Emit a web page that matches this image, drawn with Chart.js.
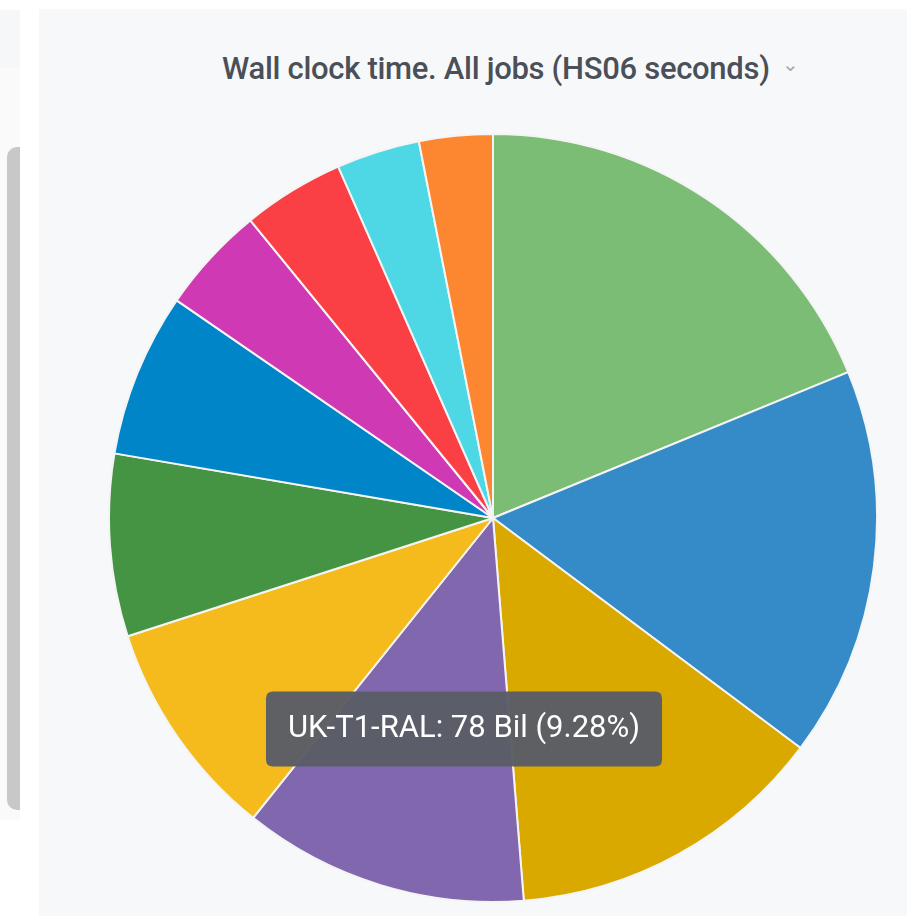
<!DOCTYPE html>
<html>
<head>
<meta charset="utf-8">
<script src="https://cdn.jsdelivr.net/npm/chart.js@4/dist/chart.umd.min.js"></script>
<style>
  html, body { margin: 0; padding: 0; background: #fff; width: 907px; height: 916px; overflow: hidden; }
  .side-top { position: absolute; left: 0; top: 10px; width: 20px; height: 58px; background: #f6f7f9; }
  .side { position: absolute; left: 0; top: 68px; width: 20px; height: 752px; background: #fafafa; }
  .bar { position: absolute; left: 7px; top: 147px; width: 13px; height: 663px; background: #c8c8c8; border-radius: 10px 0 0 10px; }
  .panel { position: absolute; left: 39px; top: 9px; width: 868px; height: 907px; background: #f7f8fa; }
  .title { position: absolute; left: 222px; top: 50px; font-family: Roboto, sans-serif; font-weight: 500; font-size: 31px; color: #4a4f58; white-space: nowrap; letter-spacing: -0.3px; }
  .title span { color: #a4a8ae; font-size: 20px; font-weight: 400; margin-left: 12px; position: relative; top: -8px; }
  #wrap { position: absolute; left: 108px; top: 133px; width: 770px; height: 770px; }
</style>
</head>
<body>
<div class="side-top"></div>
<div class="side"></div>
<div class="bar"></div>
<div class="panel"></div>
<div class="title">Wall clock time. All jobs (HS06 seconds)<span>&#8964;</span></div>
<div id="wrap"><canvas id="pie"></canvas></div>

<script>
// sites, clockwise from 12 o'clock
const sitios = ["CH-CERN", "DE-KIT", "FR-CCIN2P3", "IT-INFN-CNAF", "UK-T1-RAL", "US-T1-BNL",
                "NL-T1", "ES-PIC", "CA-TRIUMF", "NDGF", "RU-JINR-T1"];
// wall clock time, billions of HS06 seconds
const horas = [158, 138, 113.5, 101, 78, 64.5, 58, 38, 36, 29.5, 26];
const colores = ["#7bbd75", "#348bc8", "#d9a900", "#8167ae", "#f5bb1d", "#459444",
                 "#0085c9", "#cf3ab4", "#fb4045", "#4ed8e5", "#fd8630"];

const total = horas.reduce((a, b) => a + b, 0);

// tooltip sits where the mouse is
Chart.Tooltip.positioners.raton = function(elements, eventPosition) {
  return eventPosition;
};

const ctx = document.getElementById("pie").getContext("2d");
const grafico = new Chart(ctx, {
  type: "pie",
  data: {
    labels: sitios,
    datasets: [{
      data: horas,
      backgroundColor: colores,
      borderColor: "#f4f4f4",
      borderWidth: 2
    }]
  },
  options: {
    responsive: true,
    maintainAspectRatio: false,
    animation: false,
    events: [],
    plugins: {
      legend: { display: false },
      title: { display: false },
      tooltip: {
        animation: false,
        position: "raton",
        xAlign: "center",
        yAlign: "center",
        caretSize: 0,
        displayColors: false,
        backgroundColor: "rgba(90,93,102,0.97)",
        cornerRadius: 7,
        padding: { x: 22, y: 19 },
        bodyColor: "#ffffff",
        bodyFont: { family: "Roboto", size: 31, weight: "normal" },
        callbacks: {
          title: () => "",
          label: function(c) {
            return c.label + ": " + c.raw + " Bil (" + (c.raw / total * 100).toFixed(2) + "%)";
          }
        }
      }
    }
  }
});

// mouse resting over UK-T1-RAL
const idx = sitios.indexOf("UK-T1-RAL");
grafico.tooltip.setActiveElements([{ datasetIndex: 0, index: idx }], { x: 356, y: 596 });
grafico.update();
</script>
</body>
</html>
